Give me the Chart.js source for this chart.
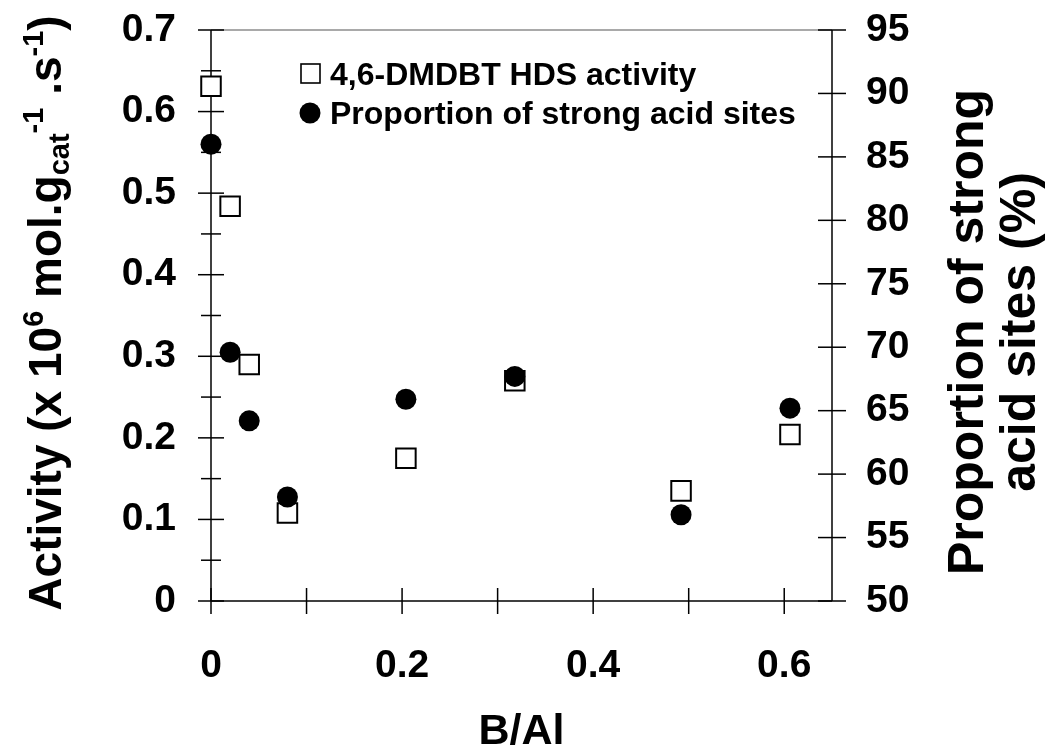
<!DOCTYPE html>
<html><head><meta charset="utf-8">
<script src="https://cdn.jsdelivr.net/npm/chart.js@4.4.1/dist/chart.umd.min.js"></script>
<style>html,body{margin:0;padding:0;background:#fff;}#wrap{width:1058px;height:751px;}</style>
</head><body><div id="wrap"><canvas id="c" width="1058" height="751"></canvas></div>
<script>
// ---- data ----
const ratioBAl = [0, 0.02, 0.04, 0.08, 0.204, 0.318, 0.492, 0.606];
const hdsActivity = [0.631, 0.484, 0.290, 0.108, 0.175, 0.270, 0.135, 0.204];
const strongAcidPct = [86.0, 69.6, 64.2, 58.2, 65.9, 67.7, 56.8, 65.2];
const xTickValues = [0, 0.2, 0.4, 0.6];
const xMinorTicks = [0.1, 0.3, 0.5];
const yLeftTicks = [0, 0.1, 0.2, 0.3, 0.4, 0.5, 0.6, 0.7];
const yLeftMinor = [0.05, 0.15, 0.25, 0.35, 0.45, 0.55, 0.65];
const yRightTicks = [50, 55, 60, 65, 70, 75, 80, 85, 90, 95];
const legendLabels = ['4,6-DMDBT HDS activity', 'Proportion of strong acid sites'];
const xTitle = 'B/Al';
const rightTitle = ['Proportion of strong', 'acid sites (%)'];
const leftTitleParts = [
  ['Activity (x 10', 'n'], ['6', 'sup'], [' mol.g', 'n'], ['cat', 'sub'],
  ['-1', 'sup'], [' .s', 'n'], ['-1', 'sup'], [')', 'n']
];

const FAM = '"Liberation Sans", Arial, sans-serif';
const tickFont = {family: FAM, size: 39, weight: 'bold'};
const fmt = v => String(Math.round(v * 100) / 100);

const pts = (xs, ys) => xs.map((x, i) => ({x: x, y: ys[i]}));

const decor = {
  id: 'decor',
  beforeDatasetsDraw(chart) {
    const {ctx, chartArea: a, scales: {x, y, y2}} = chart;
    const line = (x1, y1, x2, y2_) => { ctx.beginPath(); ctx.moveTo(x1, y1); ctx.lineTo(x2, y2_); ctx.stroke(); };
    ctx.save();
    ctx.lineWidth = 1.5;
    ctx.strokeStyle = '#8c8c8c';
    line(a.left, a.top, a.right, a.top);
    ctx.strokeStyle = '#000';
    line(a.left, a.top, a.left, a.bottom);
    line(a.right, a.top, a.right, a.bottom);
    line(a.left, a.bottom, a.right, a.bottom);
    yLeftTicks.forEach(v => { const p = y.getPixelForValue(v); line(a.left - 13, p, a.left + 13, p); });
    yLeftMinor.forEach(v => { const p = y.getPixelForValue(v); line(a.left - 10, p, a.left + 10, p); });
    yRightTicks.forEach(v => { const p = y2.getPixelForValue(v); line(a.right - 14, p, a.right + 14, p); });
    xTickValues.concat(xMinorTicks).forEach(v => { const p = x.getPixelForValue(v); line(p, a.bottom - 13, p, a.bottom + 13); });
    ctx.restore();
  },
  afterDraw(chart) {
    const {ctx, chartArea: a} = chart;
    ctx.save();
    ctx.fillStyle = '#000';
    // x title
    ctx.font = 'bold 43px ' + FAM;
    ctx.textAlign = 'center'; ctx.textBaseline = 'alphabetic';
    ctx.fillText(xTitle, (a.left + a.right) / 2, 744);
    // left title (rotated)
    const main = 46, small = 29;
    ctx.save();
    ctx.translate(50, 313);
    ctx.rotate(-Math.PI / 2);
    ctx.textAlign = 'left';
    let total = 0;
    leftTitleParts.forEach(([t, k]) => {
      ctx.font = 'bold ' + (k === 'n' ? main : small) + 'px ' + FAM;
      total += ctx.measureText(t).width;
    });
    let cx = -total / 2;
    const base = 11;
    leftTitleParts.forEach(([t, k]) => {
      ctx.font = 'bold ' + (k === 'n' ? main : small) + 'px ' + FAM;
      const dy = k === 'sup' ? -18 : (k === 'sub' ? 8 : 0);
      ctx.fillText(t, cx, base + dy);
      cx += ctx.measureText(t).width;
    });
    ctx.restore();
    // right title (rotated)
    ctx.save();
    ctx.translate(992, 332);
    ctx.rotate(-Math.PI / 2);
    ctx.font = 'bold 50px ' + FAM;
    ctx.textAlign = 'center';
    ctx.fillText(rightTitle[0], 0, -9);
    ctx.fillText(rightTitle[1], 0, 43);
    ctx.restore();
    // legend
    ctx.lineWidth = 1.6;
    ctx.strokeStyle = '#000';
    ctx.fillStyle = '#fff';
    ctx.fillRect(301, 64, 19, 19);
    ctx.strokeRect(301, 64, 19, 19);
    ctx.fillStyle = '#000';
    ctx.beginPath(); ctx.arc(310, 113, 10.5, 0, Math.PI * 2); ctx.fill();
    ctx.font = 'bold 32px ' + FAM;
    ctx.textAlign = 'left'; ctx.textBaseline = 'alphabetic';
    ctx.fillText(legendLabels[0], 330, 85);
    ctx.fillText(legendLabels[1], 330, 124);
    ctx.restore();
  }
};

const fixPadV = s => { s.paddingTop = 0; s.paddingBottom = 0; };
const fixPadH = s => { s.paddingLeft = 0; s.paddingRight = 0; };

new Chart(document.getElementById('c'), {
  type: 'scatter',
  data: {
    datasets: [
      {label: legendLabels[0], data: pts(ratioBAl, hdsActivity), yAxisID: 'y', order: 2, clip: false,
       pointStyle: 'rect', pointRadius: 13.8, pointBackgroundColor: '#fff', pointBorderColor: '#000', pointBorderWidth: 2},
      {label: legendLabels[1], data: pts(ratioBAl, strongAcidPct), yAxisID: 'y2', order: 1, clip: false,
       pointStyle: 'circle', pointRadius: 10.5, pointBackgroundColor: '#000', pointBorderColor: '#000', pointBorderWidth: 0}
    ]
  },
  options: {
    responsive: false, animation: false, devicePixelRatio: 1,
    layout: {padding: {top: 30, left: 0, right: 0, bottom: 0}},
    plugins: {legend: {display: false}, tooltip: {enabled: false}},
    scales: {
      x: {type: 'linear', position: 'bottom', min: 0, max: 0.65,
          afterBuildTicks: s => { s.ticks = xTickValues.map(v => ({value: v})); },
          afterFit: s => { s.height = 150; fixPadH(s); },
          grid: {display: false, drawTicks: false}, border: {display: false},
          ticks: {padding: 42, color: '#000', font: tickFont, callback: v => fmt(v), maxRotation: 0, autoSkip: false}},
      y: {type: 'linear', position: 'left', min: 0, max: 0.7,
          afterBuildTicks: s => { s.ticks = yLeftTicks.map(v => ({value: v})); },
          afterFit: s => { s.width = 211; fixPadV(s); },
          grid: {display: false, drawTicks: false}, border: {display: false},
          ticks: {padding: 35, color: '#000', font: tickFont, callback: v => fmt(v), autoSkip: false}},
      y2: {type: 'linear', position: 'right', min: 50, max: 95,
          afterBuildTicks: s => { s.ticks = yRightTicks.map(v => ({value: v})); },
          afterFit: s => { s.width = 226; fixPadV(s); },
          grid: {display: false, drawTicks: false}, border: {display: false},
          ticks: {padding: 34, color: '#000', font: tickFont, callback: v => fmt(v), autoSkip: false}}
    }
  },
  plugins: [decor]
});
</script></body></html>
